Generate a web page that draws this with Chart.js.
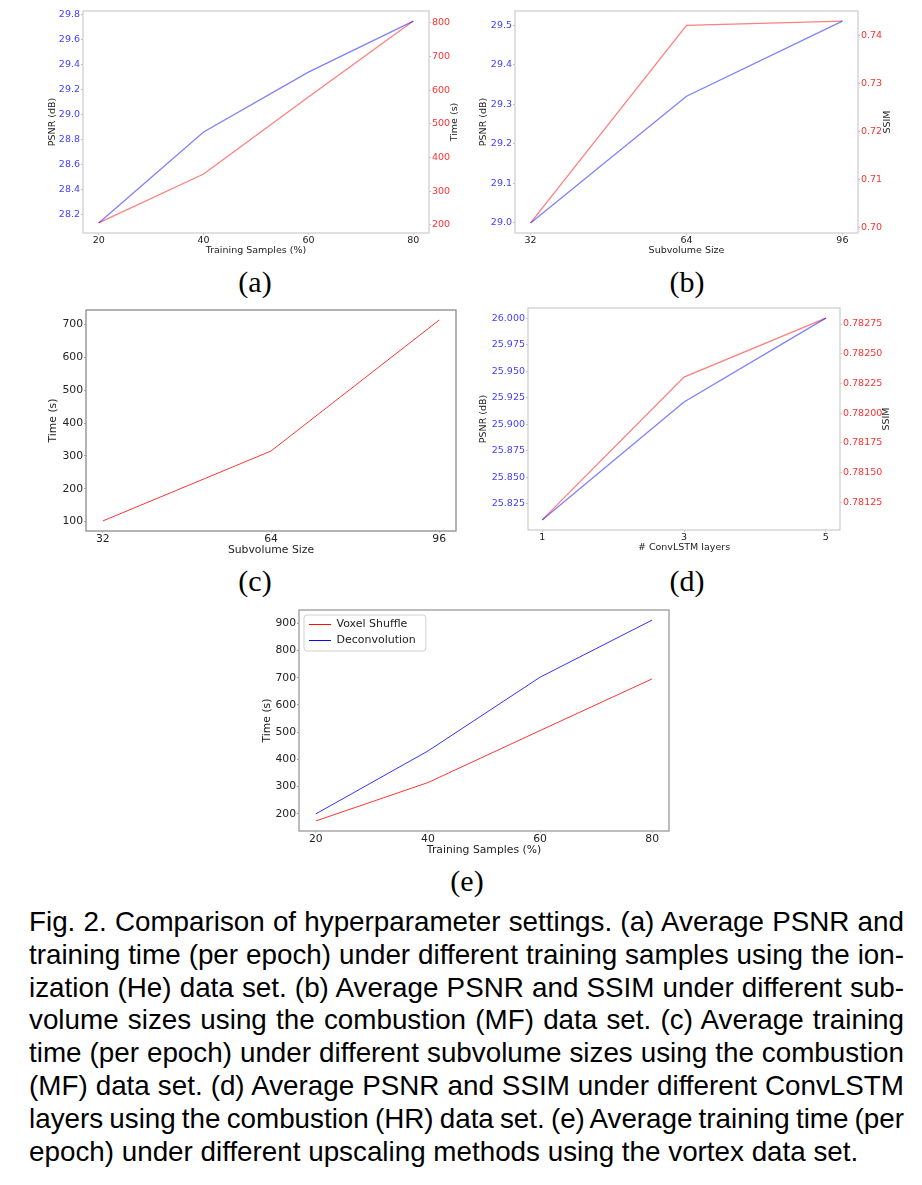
<!DOCTYPE html>
<html>
<head>
<meta charset="utf-8">
<script src="https://cdn.jsdelivr.net/npm/chart.js@4.4.1/dist/chart.umd.min.js"></script>
<style>
  html, body { margin: 0; padding: 0; background: #fff; }
  #page { position: relative; width: 922px; height: 1185px; overflow: hidden; }
  #page canvas { position: absolute; }
  .tag { position: absolute; font-family: "Liberation Serif", serif; font-size: 30px; line-height: 30px; transform: translateX(-50%); white-space: nowrap; color: #000; }
  #caption { position: absolute; left: 29px; top: 906px; width: 875px; font-family: "Liberation Sans", Arial, sans-serif; font-size: 27.8px; line-height: 32.8px; color: #000; }
  #caption div { text-align: justify; text-align-last: justify; white-space: nowrap; word-spacing: -2px; }
  #caption div.last { text-align-last: left; word-spacing: 0; }
</style>
</head>
<body>
<div id="page">
  <canvas id="chartA" width="416" height="256" style="left:47px;top:0px"></canvas>
  <canvas id="chartB" width="416" height="256" style="left:478px;top:0px"></canvas>
  <canvas id="chartC" width="419" height="257" style="left:47px;top:300px"></canvas>
  <canvas id="chartD" width="416" height="253" style="left:478px;top:300px"></canvas>
  <canvas id="chartE" width="418" height="257" style="left:261px;top:600px"></canvas>

  <div class="tag" style="left:255px;top:267px">(a)</div>
  <div class="tag" style="left:687px;top:267px">(b)</div>
  <div class="tag" style="left:255px;top:566px">(c)</div>
  <div class="tag" style="left:687px;top:566px">(d)</div>
  <div class="tag" style="left:467px;top:866px">(e)</div>

  <div id="caption">
    <div>Fig. 2. Comparison of hyperparameter settings. (a) Average PSNR and</div>
    <div>training time (per epoch) under different training samples using the ion-</div>
    <div>ization (He) data set. (b) Average PSNR and SSIM under different sub-</div>
    <div>volume sizes using the combustion (MF) data set. (c) Average training</div>
    <div>time (per epoch) under different subvolume sizes using the combustion</div>
    <div>(MF) data set. (d) Average PSNR and SSIM under different ConvLSTM</div>
    <div>layers using the combustion (HR) data set. (e) Average training time (per</div>
    <div class="last">epoch) under different upscaling methods using the vortex data set.</div>
  </div>
</div>

<script>
// (a) training samples vs PSNR / time
const samplesA = [20, 40, 60, 80];
const psnrA = [28.13, 28.86, 29.34, 29.75];
const timeA = [206, 351, 580, 805];
const ticksA_psnr = [28.2, 28.4, 28.6, 28.8, 29.0, 29.2, 29.4, 29.6, 29.8];
const ticksA_time = [200, 300, 400, 500, 600, 700, 800];

// (b) subvolume size vs PSNR / SSIM
const sizesB = [32, 64, 96];
const psnrB = [29.00, 29.32, 29.51];
const ssimB = [0.7010, 0.7422, 0.7431];
const ticksB_psnr = [29.0, 29.1, 29.2, 29.3, 29.4, 29.5];
const ticksB_ssim = [0.70, 0.71, 0.72, 0.73, 0.74];

// (c) subvolume size vs time
const sizesC = [32, 64, 96];
const timeC = [102, 315, 714];
const ticksC_time = [100, 200, 300, 400, 500, 600, 700];

// (d) ConvLSTM layers vs PSNR / SSIM
const layersD = [1, 3, 5];
const psnrD = [25.810, 25.921, 26.000];
const ssimD = [0.781101, 0.782303, 0.782800];
const ticksD_psnr = [25.825, 25.850, 25.875, 25.900, 25.925, 25.950, 25.975, 26.000];
const ticksD_ssim = [0.78125, 0.78150, 0.78175, 0.78200, 0.78225, 0.78250, 0.78275];

// (e) upscaling methods
const samplesE = [20, 40, 60, 80];
const voxelE = [174, 315, 506, 696];
const deconvE = [200, 431, 702, 912];
const ticksE_time = [200, 300, 400, 500, 600, 700, 800, 900];

Chart.defaults.font.family = '"DejaVu Sans", sans-serif';
Chart.defaults.color = '#222';

const BLUE_TXT = '#4040ff';
const RED_TXT = '#ff3030';

// matplotlib style autoscale: 5% margin each side
function padRange(vals) {
  const lo = Math.min(...vals), hi = Math.max(...vals);
  const m = (hi - lo) * 0.05;
  return { min: lo - m, max: hi + m };
}

function pts(xs, ys) {
  return xs.map((x, i) => ({ x: x, y: ys[i] }));
}

function xScale(xs, ticks, title, size, h) {
  const r = padRange(xs);
  return {
    type: 'linear', min: r.min, max: r.max,
    afterBuildTicks: s => { s.ticks = ticks.map(v => ({ value: v })); },
    afterFit: s => { s.height = h; },
    border: { display: false },
    grid: { drawOnChartArea: false, tickLength: 2, tickColor: '#c8c8c8' },
    ticks: { autoSkip: false, maxRotation: 0, padding: 0, color: '#222', font: { size: size }, callback: v => String(v) },
    title: { display: true, text: title, color: '#222', font: { size: size }, padding: 0 }
  };
}

function yScale(pos, vals, ticks, dec, color, size, w, title) {
  const r = padRange(vals);
  return {
    type: 'linear', position: pos, min: r.min, max: r.max,
    afterBuildTicks: s => { s.ticks = ticks.map(v => ({ value: v })); },
    afterFit: s => { s.width = w; },
    border: { display: false },
    grid: { drawOnChartArea: false, tickLength: 2, tickColor: color + '66' },
    ticks: { autoSkip: false, padding: 1, color: color, font: { size: size }, callback: v => v.toFixed(dec) },
    title: { display: !!title, text: title || '', color: '#222', font: { size: size }, padding: 0 }
  };
}

// box round the plot area
const framePlugin = {
  id: 'frame',
  afterDraw(chart, args, opts) {
    if (!opts.color) return;
    const a = chart.chartArea, ctx = chart.ctx;
    ctx.save();
    ctx.strokeStyle = opts.color;
    ctx.lineWidth = opts.width || 1;
    ctx.strokeRect(a.left, a.top, a.right - a.left, a.bottom - a.top);
    ctx.restore();
  }
};

// right axis label, read bottom to top like matplotlib
const sideTitlePlugin = {
  id: 'sideTitle',
  afterDraw(chart, args, opts) {
    if (!opts.text) return;
    const a = chart.chartArea, ctx = chart.ctx;
    ctx.save();
    ctx.translate(a.right + opts.offset, (a.top + a.bottom) / 2);
    ctx.rotate(-Math.PI / 2);
    ctx.font = opts.size + 'px "DejaVu Sans"';
    ctx.fillStyle = '#222';
    ctx.textAlign = 'center';
    ctx.textBaseline = 'middle';
    ctx.fillText(opts.text, 0, 0);
    ctx.restore();
  }
};

// nudge the in-plot legend and draw its frame
const legendBoxPlugin = {
  id: 'legendBox',
  beforeDraw(chart, args, opts) {
    if (!opts.enabled || !chart.legend) return;
    const lg = chart.legend, a = chart.chartArea;
    const dx = a.left + opts.dx - lg.left, dy = a.top + opts.dy - lg.top;
    lg.left += dx; lg.top += dy;
    (lg.legendHitBoxes || []).forEach(b => { b.left += dx; b.top += dy; });
  },
  afterDraw(chart, args, opts) {
    if (!opts.enabled || !chart.legend) return;
    const hb = chart.legend.legendHitBoxes || [];
    if (!hb.length) return;
    const l = Math.min(...hb.map(b => b.left)), t = Math.min(...hb.map(b => b.top));
    const r = Math.max(...hb.map(b => b.left + b.width)), btm = Math.max(...hb.map(b => b.top + b.height));
    const ctx = chart.ctx;
    ctx.save();
    ctx.strokeStyle = '#d0d0d0';
    ctx.lineWidth = 1;
    ctx.beginPath();
    ctx.roundRect(l - 5, t - 4, r - l + 15, btm - t + 9, 3);
    ctx.stroke();
    ctx.restore();
  }
};

Chart.register(framePlugin, sideTitlePlugin, legendBoxPlugin);

function makeChart(id, datasets, scales, padding, extra) {
  return new Chart(document.getElementById(id), {
    type: 'line',
    data: { datasets: datasets },
    options: {
      responsive: false,
      animation: false,
      events: [],
      layout: { padding: padding },
      elements: { point: { radius: 0 }, line: { tension: 0 } },
      scales: scales,
      plugins: Object.assign({ legend: { display: false }, tooltip: { enabled: false } }, extra)
    }
  });
}

// (a)
makeChart('chartA', [
  { label: 'PSNR', data: pts(samplesA, psnrA), borderColor: 'rgba(0,0,255,0.5)', borderWidth: 1.3, yAxisID: 'y' },
  { label: 'Time', data: pts(samplesA, timeA), borderColor: 'rgba(255,0,0,0.5)', borderWidth: 1.3, yAxisID: 'y1' }
], {
  x: xScale(samplesA, samplesA, 'Training Samples (%)', 9.5, 23),
  y: yScale('left', psnrA, ticksA_psnr, 1, BLUE_TXT, 9.5, 36, 'PSNR (dB)'),
  y1: yScale('right', timeA, ticksA_time, 0, RED_TXT, 9.5, 34, null)
}, { top: 11, left: 0, right: 0, bottom: 0 }, {
  frame: { color: '#cfcfcf', width: 1.3 },
  sideTitle: { text: 'Time (s)', offset: 26, size: 9.5 }
});

// (b)
makeChart('chartB', [
  { label: 'PSNR', data: pts(sizesB, psnrB), borderColor: 'rgba(0,0,255,0.5)', borderWidth: 1.3, yAxisID: 'y' },
  { label: 'SSIM', data: pts(sizesB, ssimB), borderColor: 'rgba(255,0,0,0.5)', borderWidth: 1.3, yAxisID: 'y1' }
], {
  x: xScale(sizesB, sizesB, 'Subvolume Size', 9.5, 23),
  y: yScale('left', psnrB, ticksB_psnr, 1, BLUE_TXT, 9.5, 37, 'PSNR (dB)'),
  y1: yScale('right', ssimB, ticksB_ssim, 2, RED_TXT, 9.5, 36, null)
}, { top: 11, left: 0, right: 0, bottom: 0 }, {
  frame: { color: '#cfcfcf', width: 1.3 },
  sideTitle: { text: 'SSIM', offset: 30, size: 9.5 }
});

// (c)
makeChart('chartC', [
  { label: 'Time', data: pts(sizesC, timeC), borderColor: 'rgba(255,0,0,0.8)', borderWidth: 1, yAxisID: 'y' }
], {
  x: xScale(sizesC, sizesC, 'Subvolume Size', 10.8, 26),
  y: yScale('left', timeC, ticksC_time, 0, '#222222', 10.8, 39, 'Time (s)')
}, { top: 10, left: 0, right: 10, bottom: 0 }, {
  frame: { color: '#8c8c8c', width: 1.3 }
});

// (d)
makeChart('chartD', [
  { label: 'PSNR', data: pts(layersD, psnrD), borderColor: 'rgba(0,0,255,0.5)', borderWidth: 1.3, yAxisID: 'y' },
  { label: 'SSIM', data: pts(layersD, ssimD), borderColor: 'rgba(255,0,0,0.5)', borderWidth: 1.3, yAxisID: 'y1' }
], {
  x: xScale(layersD, layersD, '# ConvLSTM layers', 9.5, 23),
  y: yScale('left', psnrD, ticksD_psnr, 3, BLUE_TXT, 9.5, 50, 'PSNR (dB)'),
  y1: yScale('right', ssimD, ticksD_ssim, 5, RED_TXT, 9.5, 54, null)
}, { top: 8, left: 0, right: 0, bottom: 0 }, {
  frame: { color: '#cfcfcf', width: 1.3 },
  sideTitle: { text: 'SSIM', offset: 47, size: 9.5 }
});

// (e)
makeChart('chartE', [
  { label: 'Voxel Shuffle', data: pts(samplesE, voxelE), borderColor: 'rgba(255,0,0,0.8)', backgroundColor: 'rgba(255,0,0,0.8)', borderWidth: 1, yAxisID: 'y' },
  { label: 'Deconvolution', data: pts(samplesE, deconvE), borderColor: 'rgba(0,0,255,0.8)', backgroundColor: 'rgba(0,0,255,0.8)', borderWidth: 1, yAxisID: 'y' }
], {
  x: xScale(samplesE, samplesE, 'Training Samples (%)', 10.8, 26),
  y: yScale('left', voxelE.concat(deconvE), ticksE_time, 0, '#222222', 10.8, 38, 'Time (s)')
}, { top: 10, left: 0, right: 10, bottom: 0 }, {
  frame: { color: '#9a9a9a', width: 1.3 },
  legend: {
    display: true, position: 'chartArea', align: 'start',
    labels: { boxWidth: 22, boxHeight: 0, padding: 5, color: '#222', font: { size: 11 } }
  },
  legendBox: { enabled: true, dx: 5, dy: 4 }
});
</script>
</body>
</html>
